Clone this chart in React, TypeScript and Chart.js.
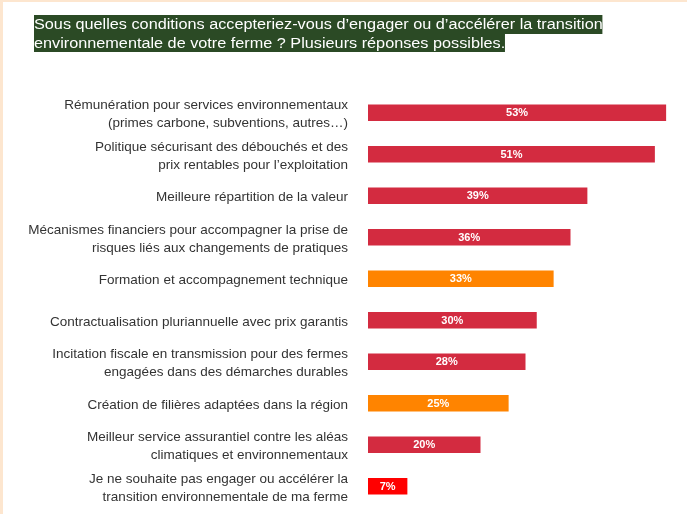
import React, { useEffect, useRef } from "react";
import { Chart, registerables } from "chart.js";

Chart.register(...registerables);

const titleLines = [
  "Sous quelles conditions accepteriez-vous d\u2019engager ou d\u2019accélérer la transition",
  "environnementale de votre ferme ? Plusieurs réponses possibles.",
];

const categories: string[][] = [
  ["Rémunération pour services environnementaux", "(primes carbone, subventions, autres\u2026)"],
  ["Politique sécurisant des débouchés et des", "prix rentables pour l\u2019exploitation"],
  ["Meilleure répartition de la valeur"],
  ["Mécanismes financiers pour accompagner la prise de", "risques liés aux changements de pratiques"],
  ["Formation et accompagnement technique"],
  ["Contractualisation pluriannuelle avec prix garantis"],
  ["Incitation fiscale en transmission pour des fermes", "engagées dans des démarches durables"],
  ["Création de filières adaptées dans la région"],
  ["Meilleur service assurantiel contre les aléas", "climatiques et environnementaux"],
  ["Je ne souhaite pas engager ou accélérer la", "transition environnementale de ma ferme"],
];

const values = [53, 51, 39, 36, 33, 30, 28, 25, 20, 7];

const barColors = [
  "#d32b40", "#d32b40", "#d32b40", "#d32b40", "#ff8400",
  "#d32b40", "#d32b40", "#ff8400", "#d32b40", "#ff0000",
];

const FONT = "'Liberation Sans', Arial, sans-serif";

const valueLabels = {
  id: "valueLabels",
  afterDatasetsDraw(chart: any) {
    const ctx = chart.ctx;
    const meta = chart.getDatasetMeta(0);
    ctx.save();
    ctx.fillStyle = "#ffffff";
    ctx.font = `bold 11px ${FONT}`;
    ctx.textAlign = "center";
    ctx.textBaseline = "middle";
    meta.data.forEach((bar: any, i: number) => {
      const x = (bar.x + bar.base) / 2;
      ctx.fillText(values[i] + "%", x, bar.y + 0.5);
    });
    ctx.restore();
  },
};

export default function App() {
  const canvasRef = useRef<HTMLCanvasElement | null>(null);

  useEffect(() => {
    document.body.style.margin = "0";
    const canvas = canvasRef.current;
    if (!canvas) return;
    const chart = new Chart(canvas, {
      type: "bar",
      data: {
        labels: categories,
        datasets: [
          {
            data: values,
            backgroundColor: barColors,
            borderWidth: 0,
            barPercentage: 0.8,
            categoryPercentage: 0.5,
          },
        ],
      },
      options: {
        indexAxis: "y",
        responsive: false,
        animation: false,
        devicePixelRatio: 1,
        layout: { padding: { top: 92, bottom: 7, right: 4, left: 0 } },
        plugins: {
          legend: { display: false },
          tooltip: { enabled: false },
          title: { display: false },
        },
        scales: {
          x: {
            display: false,
            min: 0,
            max: 56,
          },
          y: {
            grid: { display: false, drawTicks: false },
            border: { display: false },
            ticks: {
              color: "#333333",
              font: { family: FONT, size: 13.5, lineHeight: 1.33 },
              padding: 20,
              labelOffset: 2,
            },
            afterFit(scale: any) {
              scale.width = 368;
              scale.paddingTop = 0;
              scale.paddingBottom = 0;
            },
          },
        },
      },
      plugins: [valueLabels],
    });
    return () => chart.destroy();
  }, []);

  return (
    <div style={{ position: "relative", width: 687, height: 514, background: "#ffffff", overflow: "hidden" }}>
      <canvas ref={canvasRef} width={687} height={514} style={{ position: "absolute", left: 0, top: 0 }} />
      <div style={{ position: "absolute", left: 0, top: 0, width: 687, height: 2, background: "#fde6cf" }} />
      <div style={{ position: "absolute", left: 0, top: 0, width: 3, height: 514, background: "#fde6cf" }} />
      <div
        style={{
          position: "absolute",
          left: 34,
          top: 15,
          fontFamily: FONT,
          fontSize: 14,
          color: "#ffffff",
          transform: "scaleX(1.16)",
          transformOrigin: "0 0",
        }}
      >
        {titleLines.map((line, i) => (
          <div key={i} style={{ lineHeight: "18.5px", height: 18.5 }}>
            <span style={{ display: "inline-block", background: "#2b4a25", height: 18.5, whiteSpace: "nowrap" }}>{line}</span>
          </div>
        ))}
      </div>
    </div>
  );
}
